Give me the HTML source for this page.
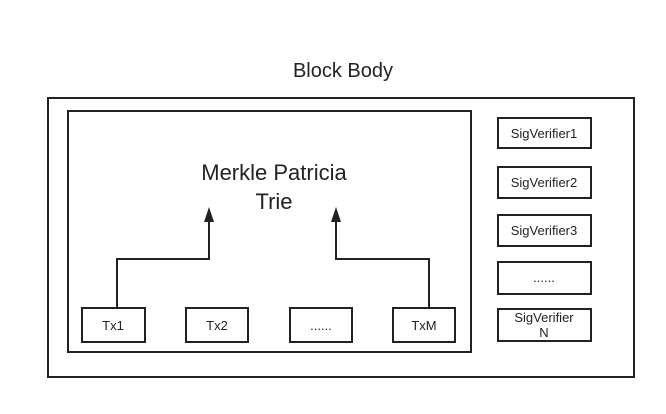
<!DOCTYPE html>
<html><head><style>
body{margin:0;background:#fff;}
svg text{font-family:"Liberation Sans",sans-serif;fill:#222;}
</style></head><body>
<svg width="666" height="409" xmlns="http://www.w3.org/2000/svg">
<rect width="666" height="409" fill="#fff"/>
<text x="343" y="77" font-size="20" text-anchor="middle">Block Body</text>
<g fill="none" stroke="#222" stroke-width="2">
<rect x="48" y="98" width="586" height="279"/>
<rect x="68" y="111" width="403" height="241"/>
<rect x="82" y="308" width="63" height="34"/>
<rect x="186" y="308" width="62" height="34"/>
<rect x="290" y="308" width="62" height="34"/>
<rect x="393" y="308" width="62" height="34"/>
<rect x="498" y="118" width="93" height="30"/>
<rect x="498" y="167" width="93" height="31"/>
<rect x="498" y="215" width="93" height="31"/>
<rect x="498" y="262" width="93" height="32"/>
<rect x="498" y="309" width="93" height="32"/>
<polyline points="117,308 117,259 209,259 209,220"/>
<polyline points="429,308 429,259 336,259 336,220"/>
</g>
<polygon points="209,207 204,222 214,222" fill="#222"/>
<polygon points="336,207 331,222 341,222" fill="#222"/>
<text x="274" y="180" font-size="22" text-anchor="middle">Merkle Patricia</text>
<text x="274" y="209" font-size="22" text-anchor="middle">Trie</text>
<g font-size="13" text-anchor="middle">
<text x="113" y="330">Tx1</text>
<text x="217" y="330">Tx2</text>
<text x="321" y="330">......</text>
<text x="424" y="330">TxM</text>
<text x="544" y="138">SigVerifier1</text>
<text x="544" y="187">SigVerifier2</text>
<text x="544" y="235">SigVerifier3</text>
<text x="544" y="282">......</text>
<text x="544" y="322">SigVerifier</text>
<text x="544" y="337">N</text>
</g>
</svg>
</body></html>
